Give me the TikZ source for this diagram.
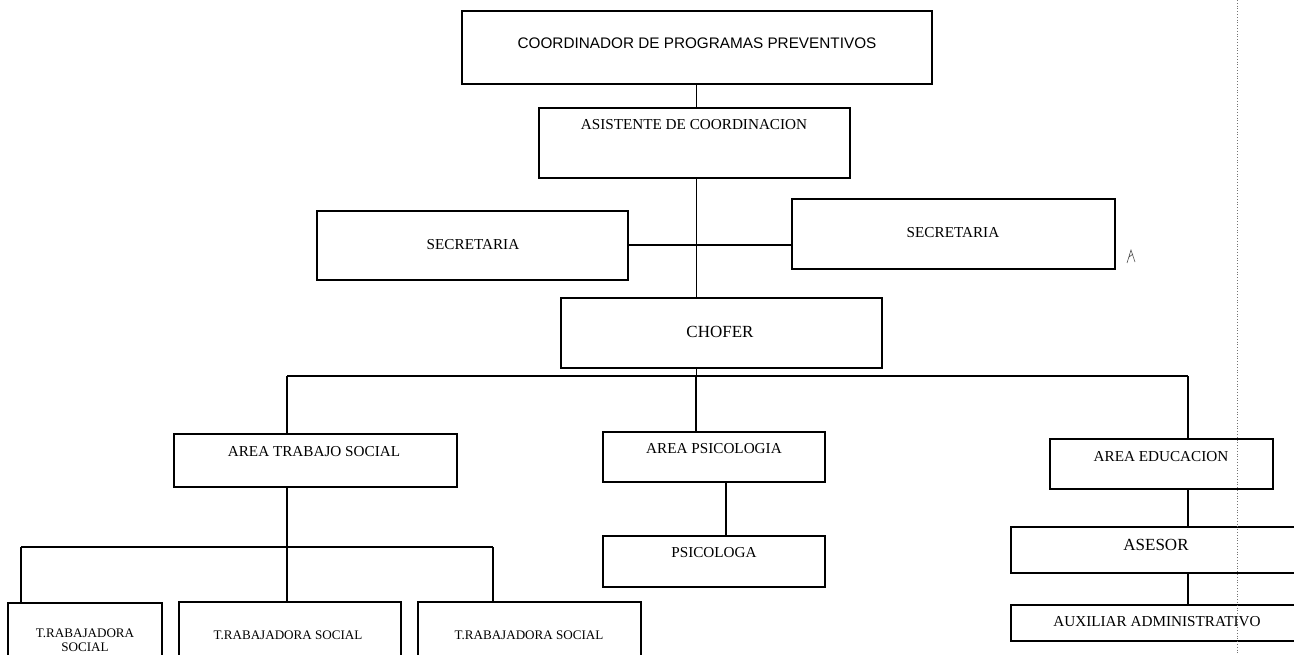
\documentclass[tikz,border=0pt]{standalone}
\usepackage{fontspec}
\setmainfont{Liberation Serif}
\newfontfamily\arialfont{Liberation Sans}
\usetikzlibrary{calc}

% box given by its corners (x1,y1) and (x2,y2), in units where y grows downward
\newcommand{\orgbox}[5]{%
  \node[orgbox, minimum width={(#4-#2)*1pt}, minimum height={(#5-#3)*1pt}]
    (#1) at ({(#2+#4)/2},{(#3+#5)/2}) {};}

\tikzset{
  orgbox/.style={draw=black, line width=1.6pt, inner sep=0pt, outer sep=0pt, fill=none},
  lbl/.style={inner sep=0pt, font=\fontsize{15.2}{17}\selectfont},
  lblbig/.style={inner sep=0pt, font=\fontsize{17}{19}\selectfont},
  lblsmall/.style={inner sep=0pt, align=center, font=\fontsize{13.1}{14.5}\selectfont},
  lblsans/.style={inner sep=0pt, font=\arialfont\fontsize{15.3}{17}\selectfont},
  link/.style={draw=black, line width=1.2pt},
  thinlink/.style={draw=black, line width=0.9pt},
  bus/.style={draw=black, line width=1.8pt},
  pageedge/.style={draw=black!55, line width=0.8pt, dotted}
}

\begin{document}
\begin{tikzpicture}[x=1pt, y=-1pt]
  \useasboundingbox (0,0) rectangle (1294,655);
  \clip (0,0) rectangle (1294,655);

  % boxes
  \orgbox{coord}{462}{11}{932}{84}
  \orgbox{asist}{539}{108}{850}{178}
  \orgbox{secl}{317}{211}{628}{280}
  \orgbox{secr}{792}{199}{1115}{269}
  \orgbox{chofer}{561}{298}{882}{368}
  \orgbox{ats}{174}{434}{457}{487}
  \orgbox{aps}{603}{432}{825}{482}
  \orgbox{aed}{1050}{439}{1273}{489}
  \orgbox{psi}{603}{536}{825}{587}
  \orgbox{ase}{1011}{527}{1310}{573}
  \orgbox{aux}{1011}{605}{1310}{641}
  \orgbox{tsa}{8}{603}{162}{672}
  \orgbox{tsb}{179}{602}{401}{672}
  \orgbox{tsc}{418}{602}{641}{672}

  % labels
  \node[lblsans] (coord-t) at (697,43) {COORDINADOR DE PROGRAMAS PREVENTIVOS};
  \node[lbl] (asist-t) at (694,125) {ASISTENTE DE COORDINACION};
  \node[lbl] (secl-t) at (473,245) {SECRETARIA};
  \node[lbl] (secr-t) at (953,233) {SECRETARIA};
  \node[lblbig] (chofer-t) at (720,332) {CHOFER};
  \node[lbl] (ats-t) at (314,452) {AREA TRABAJO SOCIAL};
  \node[lbl] (aps-t) at (714,449) {AREA PSICOLOGIA};
  \node[lbl] (aed-t) at (1161,457) {AREA EDUCACION};
  \node[lbl] (psi-t) at (714,553) {PSICOLOGA};
  \node[lblbig] (ase-t) at (1156,545) {ASESOR};
  \node[lbl] (aux-t) at (1157,622) {AUXILIAR ADMINISTRATIVO};
  \node[lblsmall] (tsa-t) at (85,640) {T.RABAJADORA\\SOCIAL};
  \node[lblsmall] (tsb-t) at (288,635) {T.RABAJADORA SOCIAL};
  \node[lblsmall] (tsc-t) at (529,635) {T.RABAJADORA SOCIAL};

  % junction points of the branch lines
  \coordinate (spine) at (696,245);
  \coordinate (busl) at (287,376);
  \coordinate (busm) at (696,376);
  \coordinate (busr) at (1188,376);
  \coordinate (tbusl) at (21,547);
  \coordinate (tbusm) at (287,547);
  \coordinate (tbusr) at (493,547);
  \coordinate (psix) at (726,500);

  % upper chain
  \draw[thinlink] (coord.south -| spine) -- (asist.north -| spine);
  \draw[thinlink] (asist.south -| spine) -- (chofer.north -| spine);
  \draw[link] (secl.east |- spine) -- (secr.west |- spine);

  % main bus under CHOFER
  \draw[thinlink] (chofer.south -| busm) -- (busm);
  \draw[bus] (busl) -- (busr);
  \draw[link] (busl) -- (ats.north -| busl);
  \draw[link] (busm) -- (aps.north -| busm);
  \draw[link] (busr) -- (aed.north -| busr);

  % psychology branch
  \draw[link] (aps.south -| psix) -- (psi.north -| psix);

  % education branch
  \draw[link] (aed.south -| busr) -- (ase.north -| busr);
  \draw[link] (ase.south -| busr) -- (aux.north -| busr);

  % social work branch
  \draw[link] (ats.south -| tbusm) -- (tbusm);
  \draw[link] (tbusl) -- (tbusr);
  \draw[link] (tbusl) -- (tsa.north -| tbusl);
  \draw[link] (tbusm) -- (tsb.north -| tbusm);
  \draw[link] (tbusr) -- (tsc.north -| tbusr);

  % dotted page edge and small pencil mark
  \draw[pageedge] (1237,0) -- (1237,655);
  \draw[line width=0.6pt, black!70] (1127,263) -- (1131,250) -- (1135,262)
        (1129,257) -- (1133,254);
\end{tikzpicture}
\end{document}
